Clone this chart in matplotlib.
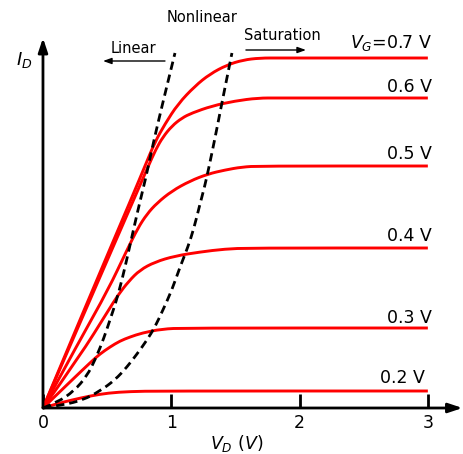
import matplotlib.pyplot as plt
from matplotlib.path import Path
from matplotlib.patches import PathPatch

plt.rcParams['font.family'] = ['DejaVu Sans']
plt.rcParams['mathtext.fontset'] = 'dejavusans'

# drain curves, V_D in volts, I_D in arbitrary units
vd_07 = [0, 0.366, 0.701, 0.795, 0.873, 0.951, 1.052, 1.185, 1.302, 1.434, 1.559, 1.691, 1.847, 3.0]
id_07 = [0, 1.12, 2.13, 2.42, 2.66, 2.84, 3.04, 3.22, 3.34, 3.43, 3.48, 3.50, 3.50, 3.50]
vd_06 = [0, 0.366, 0.740, 0.818, 0.881, 0.935, 1.005, 1.083, 1.161, 1.317, 1.496, 1.676, 1.832, 3.0]
id_06 = [0, 1.08, 2.18, 2.41, 2.59, 2.71, 2.82, 2.90, 2.95, 3.02, 3.07, 3.10, 3.10, 3.10]
vd_05 = [0, 0.288, 0.507, 0.655, 0.740, 0.811, 0.889, 1.005, 1.146, 1.286, 1.419, 1.551, 1.691, 3.0]
id_05 = [0, 0.68, 1.18, 1.58, 1.80, 1.94, 2.05, 2.17, 2.27, 2.34, 2.38, 2.41, 2.42, 2.42]
vd_04 = [0, 0.288, 0.507, 0.585, 0.670, 0.756, 0.873, 1.029, 1.224, 1.419, 1.613, 3.0]
id_04 = [0, 0.52, 0.97, 1.13, 1.27, 1.38, 1.46, 1.52, 1.56, 1.59, 1.60, 1.60]
vd_03 = [0, 0.226, 0.382, 0.444, 0.522, 0.600, 0.678, 0.772, 0.927, 1.107, 3.0]
id_03 = [0, 0.28, 0.47, 0.54, 0.61, 0.67, 0.71, 0.75, 0.79, 0.80, 0.80]
vd_02 = [0, 0.101, 0.226, 0.366, 0.507, 0.678, 0.912, 3.0]
id_02 = [0, 0.04, 0.08, 0.12, 0.15, 0.165, 0.17, 0.17]

curves = [(vd_07, id_07), (vd_06, id_06), (vd_05, id_05),
          (vd_04, id_04), (vd_03, id_03), (vd_02, id_02)]
gate_labels = [r'$V_G$=0.7 V', '0.6 V', '0.5 V', '0.4 V', '0.3 V', '0.2 V']

# region boundaries (dashed)
vd_lin = [0, 0.117, 0.242, 0.343, 0.413, 0.475, 0.522, 0.569, 0.616, 0.670, 0.740, 0.803, 0.834, 0.896, 0.966, 1.029]
id_lin = [0, 0.06, 0.17, 0.32, 0.50, 0.70, 0.88, 1.06, 1.28, 1.58, 1.98, 2.31, 2.50, 2.85, 3.22, 3.55]
vd_sat = [0, 0.156, 0.312, 0.444, 0.561, 0.655, 0.733, 0.811, 0.873, 0.935, 1.005, 1.068, 1.130, 1.177,
          1.216, 1.263, 1.294, 1.341, 1.387, 1.426, 1.473]
id_sat = [0, 0.03, 0.08, 0.17, 0.28, 0.41, 0.54, 0.68, 0.81, 0.98, 1.18, 1.41, 1.61, 1.80,
          2.00, 2.23, 2.41, 2.70, 3.00, 3.25, 3.55]

xticks = [0, 1, 2, 3]


def smooth_path(xs, ys):
    # quadratic bezier through the midpoints, read points act as controls
    pts = list(zip(xs, ys))
    verts, codes = [pts[0]], [Path.MOVETO]
    for i in range(1, len(pts) - 1):
        mid = ((pts[i][0] + pts[i + 1][0]) / 2, (pts[i][1] + pts[i + 1][1]) / 2)
        verts += [pts[i], mid]
        codes += [Path.CURVE3, Path.CURVE3]
    verts.append(pts[-1])
    codes.append(Path.LINETO)
    return Path(verts, codes)


fig = plt.figure(figsize=(4.63, 4.54), dpi=100)
ax = fig.add_axes([0, 0, 1, 1])
ax.set_xlim(-0.335, 3.274)
ax.set_ylim(-0.46, 4.08)

for vd, i_d in curves:
    ax.add_patch(PathPatch(smooth_path(vd, i_d), fill=False, edgecolor='#ff0000', lw=2.1, zorder=3))

for vd, i_d in [(vd_lin, id_lin), (vd_sat, id_sat)]:
    ax.add_patch(PathPatch(smooth_path(vd, i_d), fill=False, edgecolor='k', lw=2.0,
                           ls=(0, (3.0, 1.8)), zorder=4))

# label offsets (points) from the end of each curve
label_off = [(2.9, 7.2), (2.9, 4.3), (2.9, 5.0), (2.9, 5.0), (2.9, 3.6), (-2.2, 5.8)]
for (vd, i_d), lab, off in zip(curves, gate_labels, label_off):
    ax.annotate(lab, xy=(vd[-1], i_d[-1]), xytext=off, textcoords='offset points',
                ha='right', va='baseline', fontsize=12.5)

# axes with arrows
for s in ax.spines.values():
    s.set_visible(False)
ax.spines['bottom'].set_position(('data', 0))
ax.set_xticks(xticks)
ax.set_yticks([])
ax.tick_params(axis='x', direction='in', length=10, width=2, labelsize=12.5, pad=4)

axis_arrow = dict(arrowstyle='-|>,head_length=0.6,head_width=0.2', color='k', lw=2.0,
                  mutation_scale=14, shrinkA=0, shrinkB=0)
ax.annotate('', xy=(3.27, 0), xytext=(0, 0), arrowprops=axis_arrow, zorder=5)
ax.annotate('', xy=(0, 3.70), xytext=(0, 0), arrowprops=axis_arrow, zorder=5)

ax.text(-0.21, 3.43, r'$I_D$', fontsize=13, ha='left', va='baseline')
ax.text(1.508, -0.41, r'$V_D\ (V)$', fontsize=12.5, ha='center', va='baseline')

# region annotations
ax.text(1.239, 3.86, 'Nonlinear', fontsize=10.5, ha='center', va='baseline')
ax.text(0.709, 3.55, 'Linear', fontsize=10.5, ha='center', va='baseline')
ax.text(1.863, 3.68, 'Saturation', fontsize=10.5, ha='center', va='baseline')
small_arrow = dict(arrowstyle='-|>,head_length=0.5,head_width=0.18', color='k', lw=1.0,
                   mutation_scale=10, shrinkA=0, shrinkB=0)
ax.annotate('', xy=(0.468, 3.47), xytext=(0.951, 3.47), arrowprops=small_arrow)
ax.annotate('', xy=(2.050, 3.58), xytext=(1.582, 3.58), arrowprops=small_arrow)

fig.savefig('out.png', dpi=100)
